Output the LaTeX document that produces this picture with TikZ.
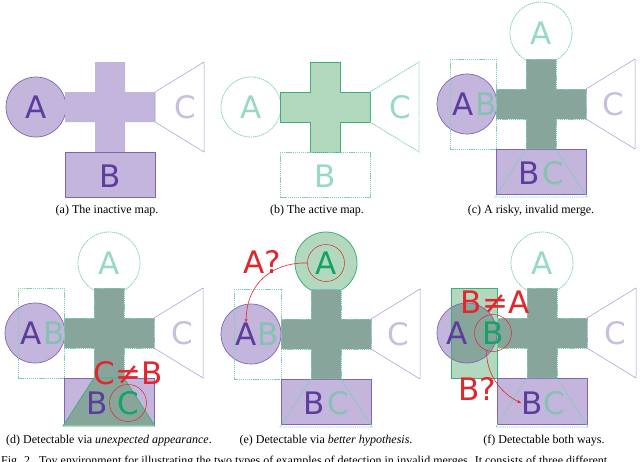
\documentclass[tikz,border=0pt]{standalone}
\usepackage{fontspec}
\setmainfont{Liberation Serif}
\newfontfamily\lblfont{DejaVu Sans}
\usetikzlibrary{arrows.meta}
\definecolor{pfill}{HTML}{C3B5DB}
\definecolor{pline}{HTML}{7F65B6}
\definecolor{ptext}{HTML}{5C3C9E}
\definecolor{plight}{HTML}{C9BEE2}
\definecolor{ptrap}{HTML}{A996D2}
\definecolor{gfill}{HTML}{B2D8BD}
\definecolor{gline}{HTML}{3DB07A}
\definecolor{glight}{HTML}{98D9C3}
\definecolor{gdash}{HTML}{7DD0B3}
\definecolor{gonp}{HTML}{84C3B2}
\definecolor{gtext}{HTML}{15A265}
\definecolor{mix}{HTML}{88A59C}
\definecolor{redc}{HTML}{E3262C}
\tikzset{
  lab/.style={font=\lblfont\fontsize{31}{31}\selectfont, inner sep=0pt},
  capt/.style={font=\fontsize{12}{14}\selectfont, inner sep=0pt},
  dsh/.style={draw=gdash, dash pattern=on 1.3pt off 0.8pt, line width=0.8pt},
  pdraw/.style={draw=pline, line width=0.7pt},
  gdraw/.style={draw=gline, line width=0.8pt},
  ptrapdraw/.style={draw=ptrap, line width=0.5pt},
  redring/.style={circle, draw=redc, line width=0.5pt, minimum size=37pt, inner sep=0pt},
  redarrow/.style={draw=redc, line width=0.6pt, -{Stealth[length=4pt,width=3pt]}},
  crossp/.pic={\path[pic actions] (-15,-45) -- (15,-45) -- (15,-15) -- (45,-15) -- (45,15) -- (15,15) -- (15,45) -- (-15,45) -- (-15,15) -- (-45,15) -- (-45,-15) -- (-15,-15) -- cycle;},
  trapR/.pic={\path[pic actions] (45,-15) -- (94,-45) -- (94,45) -- (45,15) -- cycle;},
  trapB/.pic={\path[pic actions] (-15,45) -- (15,45) -- (46,93) -- (-46,93) -- cycle;},
}
\begin{document}
\begin{tikzpicture}[x=1pt,y=-1pt]
\useasboundingbox[fill=white] (0,0) rectangle (640,461);

% ---------- (a) inactive map
\begin{scope}[shift={(110,107)}]
  \fill[pfill] (-74,0) circle (30);
  \draw[pdraw] (-74,0) circle (30);
  \pic[fill=pfill] {crossp};
  \filldraw[fill=pfill, pdraw] (-45,45) rectangle (45,90);
  \pic[ptrapdraw] {trapR};
  \node[lab, text=ptext] (aA) at (-74,0) {A};
  \node[lab, text=ptext] (aB) at (0,69) {B};
  \node[lab, text=plight] (aC) at (75,0) {C};
\end{scope}
\node[capt] (capa) at (107,211) {(a) The inactive map.};

% ---------- (b) active map
\begin{scope}[shift={(325,107)}]
  \draw[dsh] (-74,0) circle (30);
  \pic[fill=gfill, gdraw] {crossp};
  \draw[dsh] (-45,45) rectangle (45,90);
  \pic[dsh] {trapR};
  \node[lab, text=glight] (bA) at (-74,0) {A};
  \node[lab, text=glight] (bB) at (0,69) {B};
  \node[lab, text=glight] (bC) at (75,0) {C};
\end{scope}
\node[capt] (capb) at (317,211) {(b) The active map.};

% ---------- (c) risky merge
\begin{scope}[shift={(541,104)}]
  \draw[dsh] (0,-71) circle (31);
  \filldraw[fill=pfill, pdraw] (-74,0) circle (30);
  \draw[dsh] (-91,-45) rectangle (-45,45);
  \pic[fill=mix] {crossp};
  \pic[dsh, line width=0.4pt] {crossp};
  \filldraw[fill=pfill, pdraw] (-45,45) rectangle (45,90);
  \draw[dsh] (-15,45) -- (15,45) -- (46,93) -- (-46,93) -- cycle;
  \pic[ptrapdraw] {trapR};
  \node[lab, text=glight] (cAt) at (0,-71) {A};
  \node[lab, text=ptext] (cA) at (-78,0) {A};
  \node[lab, text=gonp] (cB) at (-55,0) {B};
  \node[lab, text=ptext] (cBb) at (-12,69) {B};
  \node[lab, text=gonp] (cCb) at (12,69) {C};
  \node[lab, text=plight] (cC) at (72,0) {C};
\end{scope}
\node[capt] (capc) at (531,211) {(c) A risky, invalid merge.};

% ---------- (d) unexpected appearance
\begin{scope}[shift={(109,333)}]
  \draw[dsh] (0,-70) circle (31);
  \filldraw[fill=pfill, pdraw] (-74,0) circle (30);
  \draw[dsh] (-91,-45) rectangle (-45,45);
  \pic[fill=mix] {crossp};
  \pic[dsh, line width=0.4pt] {crossp};
  \filldraw[fill=pfill, pdraw] (-45,45) rectangle (45,91);
  \pic[fill=gfill] {trapB};
  \begin{scope}
    \clip (-45,45) rectangle (45,91);
    \pic[fill=mix] {trapB};
  \end{scope}
  \pic[gdraw] {trapB};
  \pic[ptrapdraw] {trapR};
  \node[lab, text=glight] (dAt) at (0,-70) {A};
  \node[lab, text=ptext] (dA) at (-78,0) {A};
  \node[lab, text=gonp] (dB) at (-55,0) {B};
  \node[lab, text=ptext] (dBb) at (-12,70) {B};
  \node[lab, text=gtext] (dCb) at (19,70) {C};
  \node[redring] (dring) at (19,70) {};
  \node[lab, text=redc] (dneq) at (19,40) {C≠B};
  \node[lab, text=plight] (dC) at (73,0) {C};
\end{scope}
\node[capt] (capd) at (109,441) {(d) Detectable via \emph{unexpected appearance}.};

% ---------- (e) better hypothesis
\begin{scope}[shift={(326,334)}]
  \filldraw[fill=gfill, gdraw] (0,-71) circle (31);
  \filldraw[fill=pfill, pdraw] (-75,0) circle (30);
  \draw[dsh] (-92,-45) rectangle (-45,45);
  \pic[fill=mix] {crossp};
  \pic[dsh, line width=0.4pt] {crossp};
  \filldraw[fill=pfill, pdraw] (-45,45) rectangle (45,90);
  \draw[dsh] (-15,45) -- (15,45) -- (46,93) -- (-46,93) -- cycle;
  \pic[ptrapdraw] {trapR};
  \node[lab, text=gtext] (eAt) at (0,-71) {A};
  \node[redring] (ering) at (0,-71) {};
  \node[lab, text=redc] (eq) at (-64,-72) {A?};
  \node[lab, text=ptext] (eA) at (-80,0) {A};
  \node[lab, text=gonp] (eB) at (-58,0) {B};
  \node[lab, text=ptext] (eBb) at (-12,69) {B};
  \node[lab, text=gonp] (eCb) at (12,69) {C};
  \node[lab, text=plight] (eC) at (72,0) {C};
  \draw[redarrow] (ering.west) .. controls (-45,-72) and (-79,-58) .. (eA.north);
\end{scope}
\node[capt] (cape) at (326,441) {(e) Detectable via \emph{better hypothesis}.};

% ---------- (f) both ways
\begin{scope}[shift={(542,333)}]
  \draw[dsh] (0,-70) circle (31);
  \fill[gfill] (-91,-45) rectangle (-45,45);
  \fill[pfill] (-75,0) circle (30);
  \begin{scope}
    \clip (-91,-45) rectangle (-45,45);
    \fill[mix] (-75,0) circle (30);
  \end{scope}
  \draw[pdraw] (-75,0) circle (30);
  \draw[gdraw] (-91,-45) rectangle (-45,45);
  \pic[fill=mix] {crossp};
  \pic[dsh, line width=0.4pt] {crossp};
  \filldraw[fill=pfill, pdraw] (-45,45) rectangle (45,91);
  \draw[dsh] (-15,45) -- (15,45) -- (46,94) -- (-46,94) -- cycle;
  \pic[ptrapdraw] {trapR};
  \node[lab, text=glight] (fAt) at (0,-70) {A};
  \node[lab, text=ptext] (fA) at (-85,0) {A};
  \node[lab, text=gtext] (fB) at (-49,0) {B};
  \node[redring] (fring) at (-49,0) {};
  \node[lab, text=redc] (fneq) at (-47,-31) {B≠A};
  \node[lab, text=redc] (fq) at (-65,56) {B?};
  \node[lab, text=ptext] (fBb) at (-10,70) {B};
  \node[lab, text=gonp] (fCb) at (12,70) {C};
  \node[lab, text=plight] (fC) at (73,0) {C};
  \draw[redarrow] (fring.250) .. controls (-56,40) and (-42,60) .. (fBb.west);
\end{scope}
\node[capt] (capf) at (544,441) {(f) Detectable both ways.};

% ---------- caption line, cut by the lower edge as in the reference
\node[capt, anchor=base west] (figcap) at (1,464) {Fig. 2.\ \ Toy environment for illustrating the two types of examples of detection in invalid merges. It consists of three different};
\end{tikzpicture}
\end{document}
